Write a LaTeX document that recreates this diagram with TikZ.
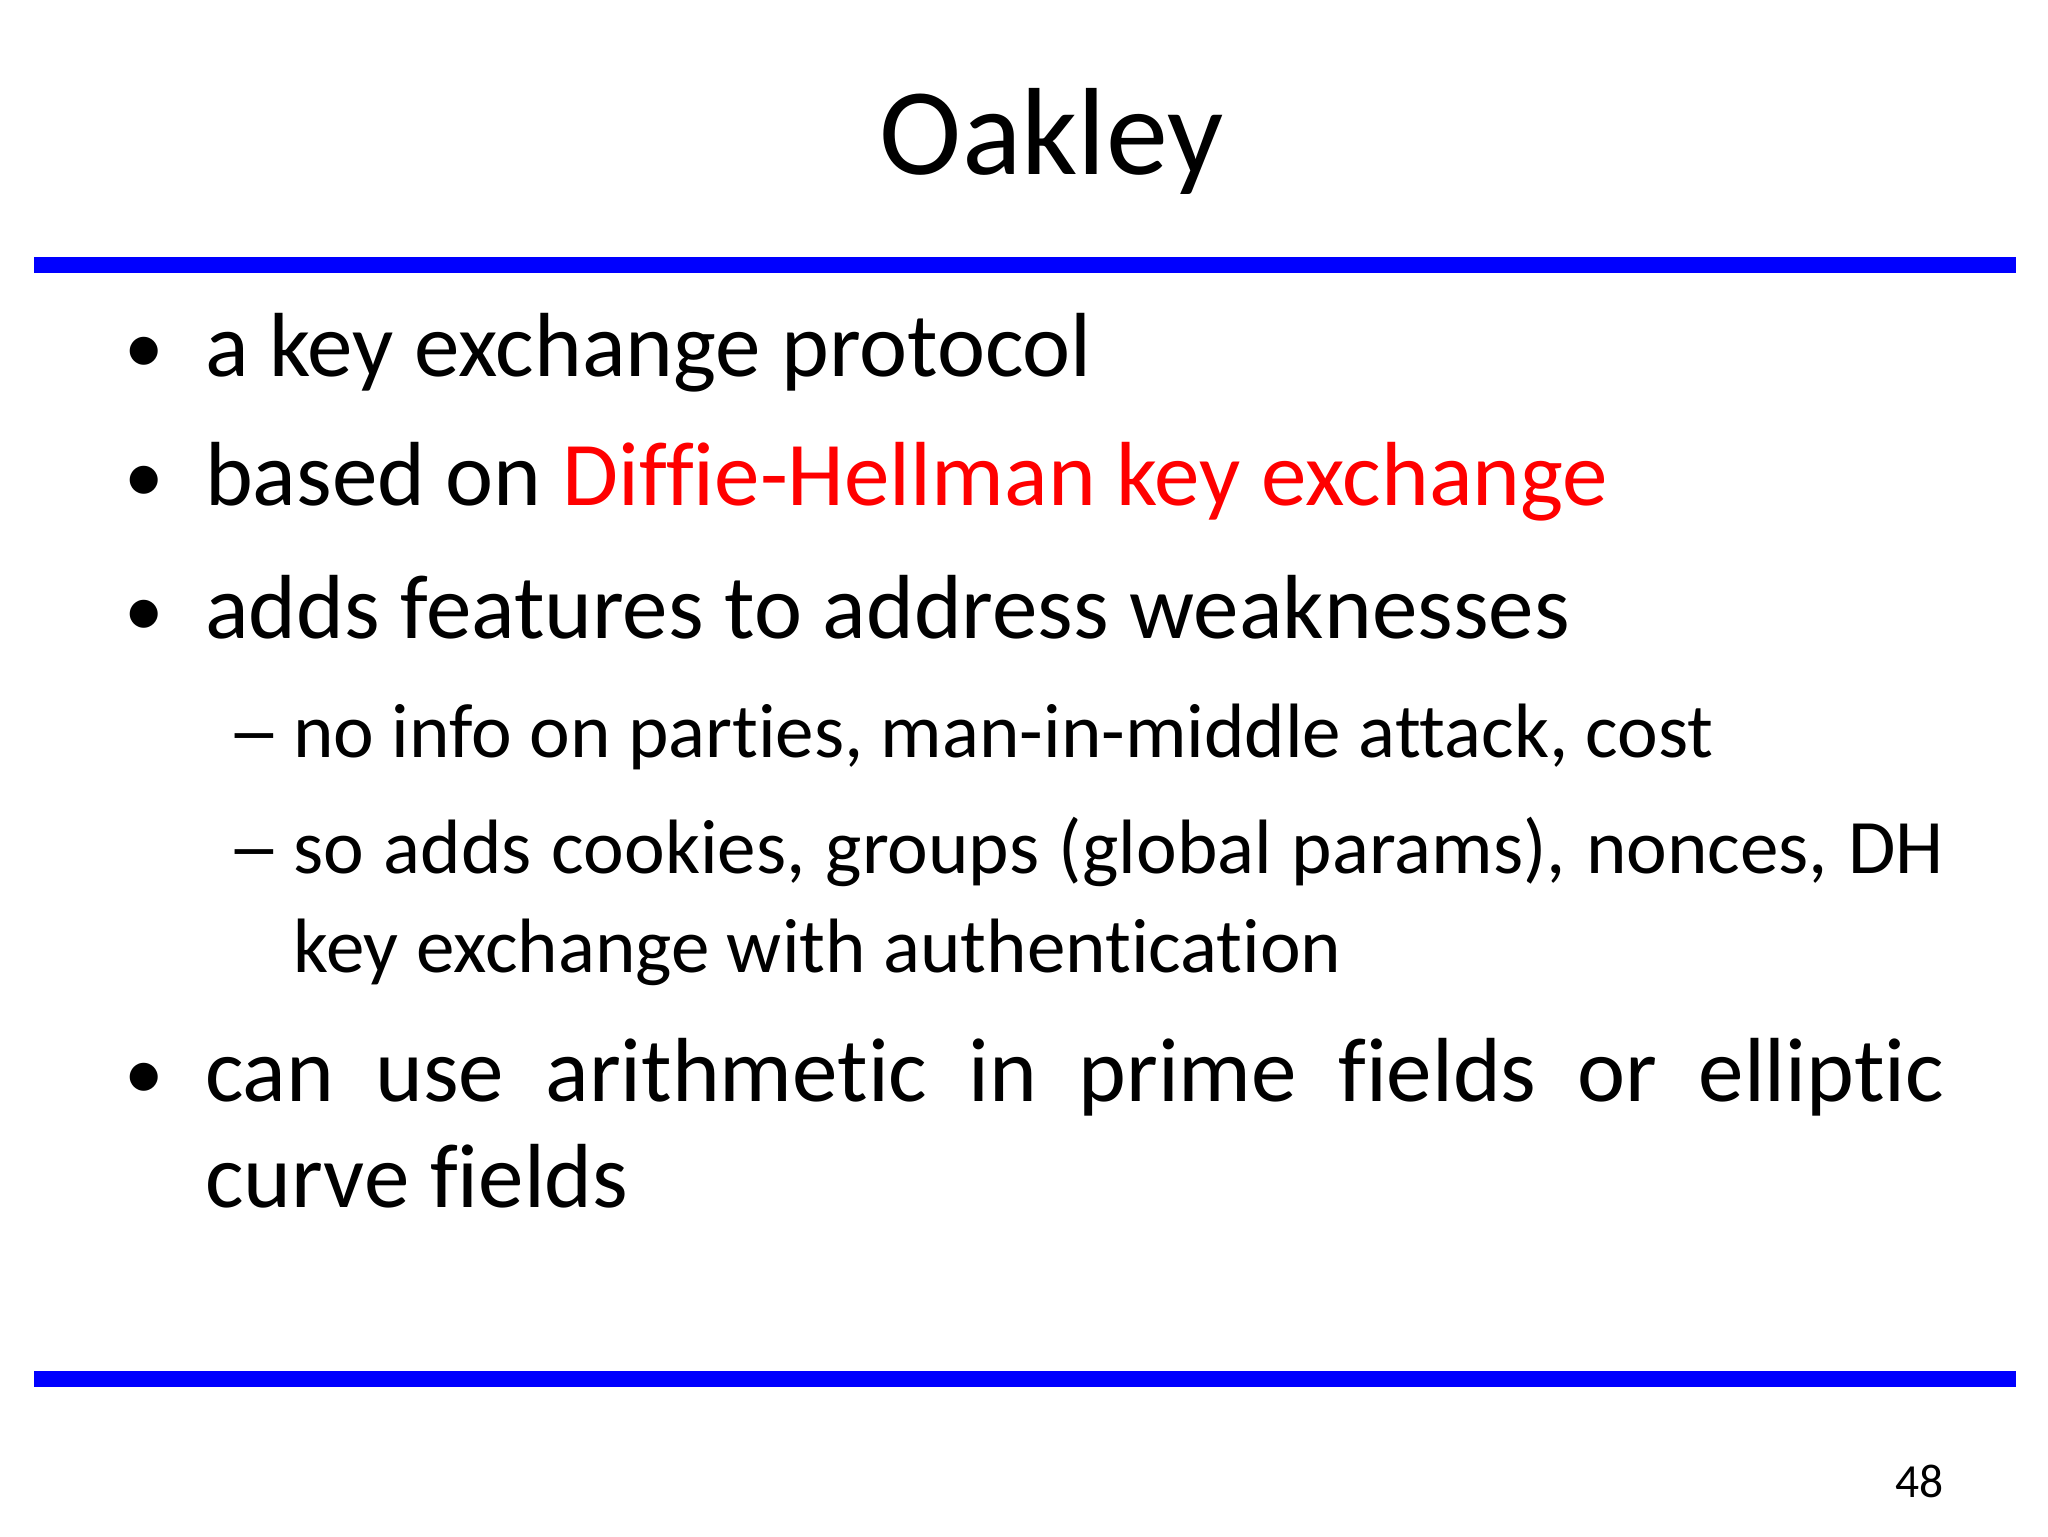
\documentclass[tikz,border=0pt]{standalone}
\usepackage{fontspec}
\setmainfont[Ligatures=NoCommon]{Carlito}
\begin{document}
\begin{tikzpicture}[x=0.5pt,y=-0.5pt,
  rule/.style={draw=blue,line width=6pt},
  body/.style={anchor=base west,inner sep=0pt,font=\fontsize{34.5}{40}\selectfont},
  bul/.style={anchor=base west,inner sep=0pt,font=\fontsize{30}{40}\selectfont},
  sub/.style={anchor=base west,inner sep=0pt,font=\fontsize{29.2}{37.5}\selectfont}]
\useasboundingbox (0,0) rectangle (1552,1164);
\node[anchor=base,inner sep=0pt,font=\fontsize{47}{60}\selectfont] (title) at (797,132) {Oakley};
\coordinate (l1a) at (26,201); \coordinate (l1b) at (1528,201);
\coordinate (l2a) at (26,1045); \coordinate (l2b) at (1528,1045);
\draw[rule] (l1a) -- (l1b);
\draw[rule] (l2a) -- (l2b);
\node[bul] (b1) at (94,283) {•};
\node[body] (t1) at (155,285) {a key exchange protocol};
\node[bul] (b2) at (94,381) {•};
\node[body] (t2) at (155,383) {based on \textcolor{red}{Diffie-Hellman key exchange}};
\node[bul] (b3) at (94,482) {•};
\node[body] (t3) at (155,484) {adds features to address weaknesses};
\node[sub] (d1) at (172,574) {\scalebox{1.4}[1]{–}};
\node[sub] (s1) at (222,574) {no info on parties, man-in-middle attack, cost};
\node[sub] (d2) at (172,662) {\scalebox{1.4}[1]{–}};
\node[sub,text width=625.5pt,align=justify] (s2) at (222,662) {so adds cookies, groups (global params), nonces, DH key exchange with authentication};
\node[bul] (b4) at (94,833) {•};
\node[body,text width=659pt,align=justify] (t4) at (155,835) {can use arithmetic in prime fields or elliptic curve fields};
\node[anchor=base east,inner sep=0pt,font=\fontsize{18}{22}\selectfont] (num) at (1473,1135) {48};
\end{tikzpicture}
\end{document}
